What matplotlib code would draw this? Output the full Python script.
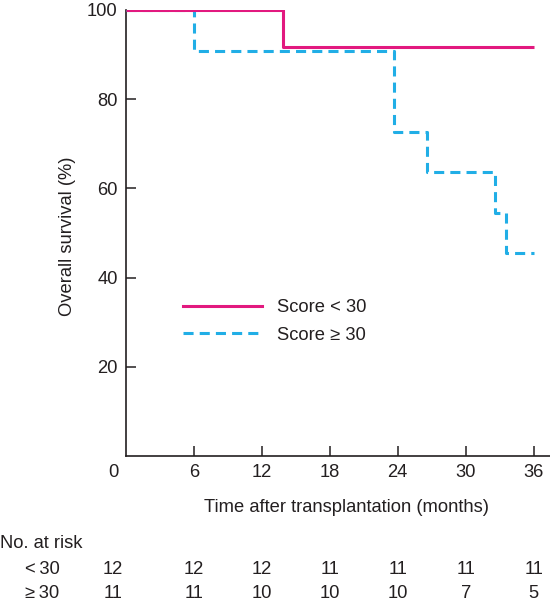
import matplotlib
matplotlib.use("Agg")
import matplotlib.pyplot as plt
from matplotlib.transforms import ScaledTranslation, blended_transform_factory
from matplotlib.lines import Line2D

plt.rcParams['font.family'] = ['Liberation Sans', 'DejaVu Sans']

# ---- data ----
# Score < 30 (Kaplan-Meier step points)
low_t = [0, 13.9, 36]
low_s = [100, 91.67, 91.67]
# Score >= 30
high_t = [0, 6, 23.7, 26.6, 32.6, 33.6, 36]
high_s = [100, 90.91, 72.73, 63.64, 54.55, 45.45, 45.45]

xticks = [0, 6, 12, 18, 24, 30, 36]
yticks = [20, 40, 60, 80, 100]
risk_times = [0, 6, 12, 18, 24, 30, 36]
risk_low = [12, 12, 12, 11, 11, 11, 11]
risk_high = [11, 11, 10, 10, 10, 7, 5]

label_low = "Score < 30"
label_high = "Score \u2265 30"
row_low = "<\u200930"
row_high = "\u2265\u200930"

# ---- style ----
C_LOW = '#E2197F'
C_HIGH = '#21AEE6'
TXT = '#231F20'
FS = 13.2
W, H = 550, 611
DPI = 100

fig = plt.figure(figsize=(W / DPI, H / DPI), dpi=DPI)
ax = fig.add_axes([126 / W, 1 - 456 / H, (550 - 126) / W, (456 - 10) / H])

ax.step(low_t, low_s, where='post', color=C_LOW, lw=2.2, solid_capstyle='butt', zorder=4)
ax.step(high_t, high_s, where='post', color=C_HIGH, lw=2.2, dashes=(3.3, 2.0), zorder=3)

ax.set_xlim(0, 37.45)
ax.set_ylim(0, 100)
ax.set_xticks(xticks)
ax.set_yticks(yticks)
ax.set_xticklabels([str(v) for v in xticks])
ax.set_yticklabels([str(v) for v in yticks])

for s in ['top', 'right']:
    ax.spines[s].set_visible(False)
for s in ['left', 'bottom']:
    ax.spines[s].set_color(TXT)
    ax.spines[s].set_linewidth(1.2)

ax.tick_params(axis='both', direction='in', length=7.5, width=1.1, color=TXT,
               labelsize=FS, labelcolor=TXT)
ax.tick_params(axis='y', pad=6)
ax.tick_params(axis='x', pad=6)

# shift "0" x label left like the reference
lab0 = ax.get_xticklabels()[0]
lab0.set_transform(lab0.get_transform() + ScaledTranslation(-13 / DPI, 0, fig.dpi_scale_trans))
ax.xaxis.get_major_ticks()[0].tick1line.set_visible(False)
ax.yaxis.get_major_ticks()[-1].tick1line.set_visible(False)

# axis labels
fig.text(67 / W, 1 - 236 / H, "Overall survival (%)", rotation=90, ha='center', va='center',
         fontsize=FS, color=TXT)
fig.text(346 / W, 1 - 507 / H, "Time after transplantation (months)", ha='center', va='center',
         fontsize=FS, color=TXT)

# legend
handles = [Line2D([], [], color=C_LOW, lw=2.2),
           Line2D([], [], color=C_HIGH, lw=2.2, dashes=(3.3, 2.0))]
leg = fig.legend(handles, [label_low, label_high], loc='center left',
                 bbox_to_anchor=(183 / W, 1 - 321.5 / H), frameon=False,
                 fontsize=FS, handlelength=4.3, handletextpad=0.85,
                 labelspacing=0.58, borderpad=0, borderaxespad=0)
for t in leg.get_texts():
    t.set_color(TXT)

# number at risk table
fig.text(0 / W, 1 - 543 / H, "No. at risk", ha='left', va='center', fontsize=FS, color=TXT)
fig.text(25 / W, 1 - 569 / H, row_low, ha='left', va='center', fontsize=FS, color=TXT)
fig.text(25 / W, 1 - 594 / H, row_high, ha='left', va='center', fontsize=FS, color=TXT)
tr = blended_transform_factory(ax.transData, fig.transFigure)
for i, (t, a, b) in enumerate(zip(risk_times, risk_low, risk_high)):
    off = ScaledTranslation(-13 / DPI if i == 0 else 0, 0, fig.dpi_scale_trans)
    ax.text(t, 1 - 569 / H, str(a), transform=tr + off, ha='center', va='center',
            fontsize=FS, color=TXT, clip_on=False)
    ax.text(t, 1 - 594 / H, str(b), transform=tr + off, ha='center', va='center',
            fontsize=FS, color=TXT, clip_on=False)

fig.savefig("out.png", dpi=DPI)
